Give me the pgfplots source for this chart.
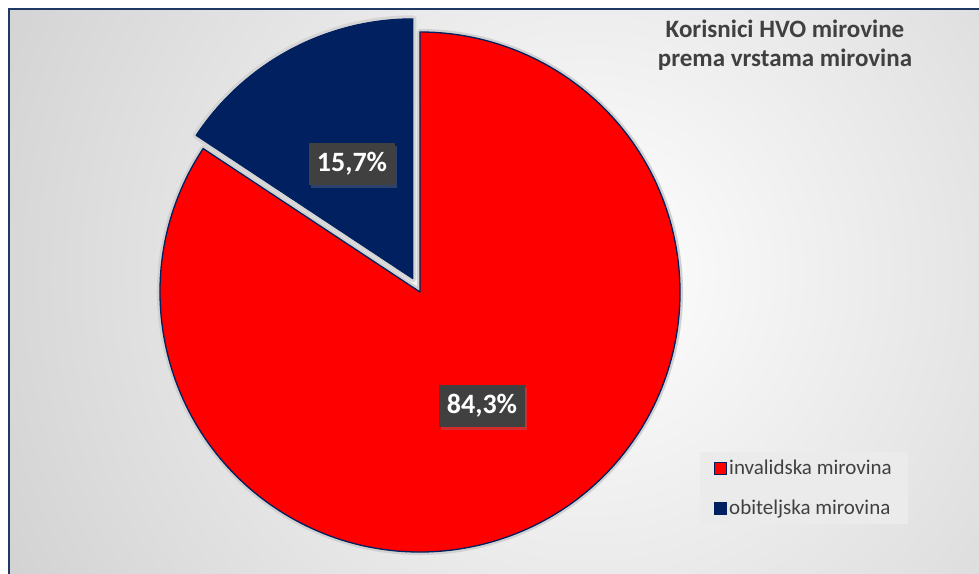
\documentclass[border=0pt]{standalone}
\usepackage{pgfplots}
\pgfplotsset{compat=1.18}
\usepackage{pgfplotstable}
\usepackage{fontspec}
\setmainfont{Carlito}
\usetikzlibrary{shadows}

\definecolor{pieRed}{HTML}{FF0000}
\definecolor{pieBlue}{HTML}{002060}
\definecolor{txtgray}{HTML}{404040}
\definecolor{framecol}{HTML}{203864}

% udio korisnika po vrsti mirovine (%)
\pgfplotstableread{
vrsta value
invalidska 84.3
obiteljska 15.7
}\mirovine

\begin{document}
\begin{tikzpicture}
\pgfplotstablegetelem{0}{value}\of\mirovine \let\valA\pgfplotsretval
\pgfplotstablegetelem{1}{value}\of\mirovine \let\valB\pgfplotsretval
\pgfmathsetmacro\angB{90+3.6*\valB}
\pgfmathsetmacro\angMid{90+1.8*\valB}
\begin{axis}[
    scale only axis, width=979pt, height=573pt,
    xmin=0, xmax=979, ymin=0, ymax=573,
    hide axis, clip=true,
    legend cell align=left,
    legend image code/.code={\draw[#1] (0pt,-6pt) rectangle (12pt,6pt);},
    legend style={at={(0.715,0.211)}, anchor=north west,
        fill=black!8, draw=none, text=txtgray,
        font=\fontsize{21}{25}\selectfont,
        inner xsep=14pt, inner ysep=6pt, row sep=20pt,
        nodes={inner sep=2pt}},
]
% pozadina
\fill[white] (axis cs:0,0) rectangle (axis cs:979,573);
\begin{scope}
  \clip (axis cs:9,-10) rectangle (axis cs:990,564);
  \shade[inner color=white, outer color=black!25] (axis cs:590,300) circle (940pt);
\end{scope}
\draw[framecol, line width=2pt] (axis cs:9,-20) rectangle (axis cs:1000,564);

% invalidska
\draw[white!82!black, line width=6pt, line join=round]
  (axis cs:420,281) -- ++(\angB:260pt) arc[start angle=\angB, end angle=450, radius=260pt] -- cycle;
\draw[fill=pieRed, draw=pieBlue, line width=1.3pt, line join=round]
  (axis cs:420,281) -- ++(\angB:260pt) arc[start angle=\angB, end angle=450, radius=260pt] -- cycle;
% obiteljska (izvucena)
\draw[white!82!black, line width=7pt, line join=round, opacity=0.8]
  ([shift={(\angMid:15pt)}]axis cs:420,281) -- ++(90:260pt) arc[start angle=90, end angle=\angB, radius=260pt] -- cycle;
\draw[fill=pieBlue, draw=pieBlue, line width=1pt, line join=round]
  ([shift={(\angMid:15pt)}]axis cs:420,281) -- ++(90:260pt) arc[start angle=90, end angle=\angB, radius=260pt] -- cycle;

% oznake
\node[fill=txtgray, text=white, font=\bfseries\fontsize{28}{32}\selectfont,
  minimum width=86pt, minimum height=42pt, inner sep=0pt,
  drop shadow={shadow xshift=2pt, shadow yshift=-3pt, opacity=0.35}]
  at (axis cs:352,409) {15,7\%};
\node[fill=txtgray, text=white, font=\bfseries\fontsize{28}{32}\selectfont,
  minimum width=86pt, minimum height=42pt, inner sep=0pt,
  drop shadow={shadow xshift=2pt, shadow yshift=-3pt, opacity=0.35}]
  at (axis cs:482,167) {84,3\%};

% naslov
\node[anchor=base, text=txtgray, font=\bfseries\fontsize{25}{29}\selectfont]
  at (axis cs:785,535) {Korisnici HVO mirovine};
\node[anchor=base, text=txtgray, font=\bfseries\fontsize{25}{29}\selectfont]
  at (axis cs:785,506) {prema vrstama mirovina};

\addlegendimage{fill=pieRed, draw=pieBlue, line width=1pt}
\addlegendentry{invalidska mirovina}
\addlegendimage{fill=pieBlue, draw=pieBlue, line width=1pt}
\addlegendentry{obiteljska mirovina}

\coordinate (SW) at (axis cs:0,0);
\coordinate (NE) at (axis cs:979,573);
\end{axis}
\pgfresetboundingbox
\useasboundingbox (SW) rectangle (NE);
\end{tikzpicture}
\end{document}
